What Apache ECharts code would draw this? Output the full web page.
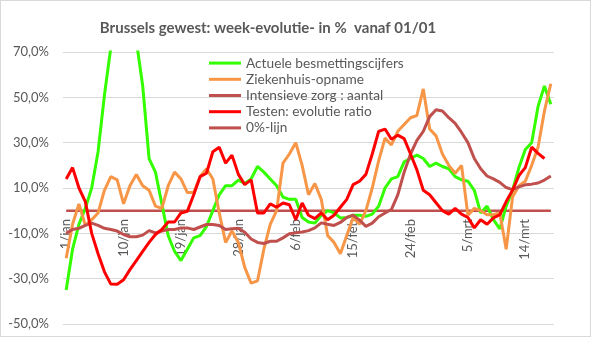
<!DOCTYPE html>
<html>
<head>
<meta charset="utf-8">
<script src="https://cdn.jsdelivr.net/npm/echarts@6/dist/echarts.min.js"></script>
<style>
  html, body { margin: 0; padding: 0; background: #fff; }
  #chart { width: 591px; height: 337px; box-sizing: border-box; border: 1px solid #d9d9d9; }
</style>
</head>
<body>
<div id="chart"></div>
<script>
// Days from 1 January to 18 March
const days = [
  '1/jan','2/jan','3/jan','4/jan','5/jan','6/jan','7/jan','8/jan','9/jan','10/jan',
  '11/jan','12/jan','13/jan','14/jan','15/jan','16/jan','17/jan','18/jan','19/jan','20/jan',
  '21/jan','22/jan','23/jan','24/jan','25/jan','26/jan','27/jan','28/jan','29/jan','30/jan','31/jan',
  '1/feb','2/feb','3/feb','4/feb','5/feb','6/feb','7/feb','8/feb','9/feb','10/feb',
  '11/feb','12/feb','13/feb','14/feb','15/feb','16/feb','17/feb','18/feb','19/feb','20/feb',
  '21/feb','22/feb','23/feb','24/feb','25/feb','26/feb','27/feb','28/feb',
  '1/mrt','2/mrt','3/mrt','4/mrt','5/mrt','6/mrt','7/mrt','8/mrt','9/mrt','10/mrt',
  '11/mrt','12/mrt','13/mrt','14/mrt','15/mrt','16/mrt','17/mrt','18/mrt'
];

// Week-on-week evolution in %
const besmettingen = [
  -35, -17, -6, 1, 10, 26, 51, 72, 95, 105,
  95, 75, 55, 23, 17, 3, -11, -18, -22, -17,
  -12, -11, -7, 0, 7, 11, 11, 13.5, 12, 14, 19.5,
  17, 14, 11, 6, 5, 5, -3, -5, -5.5, -2,
  0, -1, -3.2, -3, -2, -2, -2.5, -1.5, 2, 10,
  14, 15, 21.5, 23, 24.5, 23, 19.5, 21,
  19.5, 18.5, 15, 13.6, 13, 9, -1, 2, -4, -8,
  2, 9, 19, 27, 30, 46, 55, 47
];

const ziekenhuis = [
  -21, -6, 3, -6.5, -4, -1, 9, 15, 13.6, 3,
  11, 16, 11, 9, 2, 1, 11, 17, 14, 8,
  8, 15, 18.5, 14, -1, -14, -9, -14, -25, -32, -31,
  -17, -6, 0, 21, 25, 30, 20, 7, 12, 5,
  -11, -14, -19, -11, -3, -6, 0, 10, 22, 32,
  29, 35, 38, 41, 42, 53.7, 36, 33,
  25, 20, 16.5, 20, -2, 1, 0, -1.8, -1.8, -1,
  -17, 6, 11, 13, 20, 28, 44, 56
];

const intensieveZorg = [
  -10, -8.3, -7.8, -6.5, -5.5, -6.5, -7.8, -8.3, -9, -10.5,
  -11.5, -11.5, -10.8, -8.8, -9.8, -9, -8.3, -8.3, -7.6, -7.6,
  -8.3, -7.2, -6.1, -6.1, -6.5, -8.3, -8, -7.8, -9.5, -12.5, -14,
  -14.5, -13.5, -13.5, -12, -10.2, -9.8, -9.4, -8.8, -7.6, -5.4,
  -6, -6.5, -5.2, -3, -2, -4.2, -6.9, -5.5, -2.7, -1,
  0.5, 7, 17, 25, 31, 35, 41.5, 44.5,
  44, 41, 38.5, 34.5, 30, 23, 18.5, 15.3, 14, 12.5,
  10.2, 9.3, 10.5, 11.4, 11.7, 12.2, 13.5, 15.3
];

const testen = [
  14, 19, 10, 4, -10, -19, -27, -32.4, -32.5, -30.5,
  -26, -22, -18, -14, -10.5, -8.3, -5, -5, -1, -0.3,
  7, 15, 16.5, 26, 28, 21, 24.5, 16, 11.5, 13.6, -1,
  -1, 3, 1.5, 3.4, 2.6, -4, 3.4, -2, -3.5, -1,
  -4, -2, 1.5, 5, 11.5, 13, 16, 25, 35, 36,
  31.5, 33.3, 31.8, 25, 18, 9, 7, 3.5,
  0, -1.5, 1, -1.5, -3, -7.6, -4, -6, -3.2, -1.8,
  4, 9, 15.5, 19, 28, 25.3, 23, null
];

const nulLijn = days.map(() => 0);

const seriesNames = [
  'Actuele besmettingscijfers',
  'Ziekenhuis-opname',
  'Intensieve zorg : aantal',
  'Testen: evolutie ratio',
  '0%-lijn'
];
const seriesColors = ['#33ff00', '#f79646', '#c0504d', '#ff0000', '#c0504d'];
const seriesData = [besmettingen, ziekenhuis, intensieveZorg, testen, nulLijn];

const font = 'Lato, "Liberation Sans", sans-serif';
const textGrey = '#595959';

const chart = echarts.init(document.getElementById('chart'), null, { renderer: 'canvas' });

chart.setOption({
  animation: false,
  backgroundColor: '#ffffff',
  title: {
    text: 'Brussels gewest: week-evolutie- in %  vanaf 01/01',
    left: 262,
    textAlign: 'center',
    top: 15,
    textStyle: { fontFamily: font, fontSize: 15, fontWeight: 'bold', color: textGrey }
  },
  legend: {
    orient: 'vertical',
    left: 203,
    top: 49,
    icon: 'rect',
    itemWidth: 32,
    itemHeight: 3,
    itemGap: 0,
    data: seriesNames,
    textStyle: { fontFamily: font, fontSize: 13.7, color: textGrey, lineHeight: 16.2 }
  },
  grid: { left: 62, right: 36, top: 51, bottom: 12, outerBoundsMode: 'none', containLabel: false },
  xAxis: {
    type: 'category',
    data: days,
    boundaryGap: true,
    axisLine: { show: false },
    axisTick: { show: false },
    axisLabel: {
      interval: 8,
      rotate: 90,
      // date labels hang just below the 0% line
      margin: -105,
      fontFamily: font,
      fontSize: 13,
      color: textGrey
    },
    splitLine: { show: false }
  },
  yAxis: {
    type: 'value',
    min: -50,
    max: 70,
    interval: 20,
    axisLine: { show: false },
    axisTick: { show: false },
    axisLabel: {
      margin: 14,
      fontFamily: font,
      fontSize: 13,
      color: textGrey,
      formatter: v => v.toFixed(1).replace('.', ',') + '%'
    },
    splitLine: { lineStyle: { color: '#d9d9d9', width: 1 } }
  },
  series: seriesNames.map((name, i) => ({
    name: name,
    type: 'line',
    data: seriesData[i],
    symbol: 'none',
    clip: true,
    smooth: false,
    color: seriesColors[i],
    lineStyle: { width: i === 4 ? 2.5 : 3, color: seriesColors[i] },
    z: i === 4 ? 1 : 2 + (i === 3 ? 1 : 0)
  }))
});
</script>
</body>
</html>
